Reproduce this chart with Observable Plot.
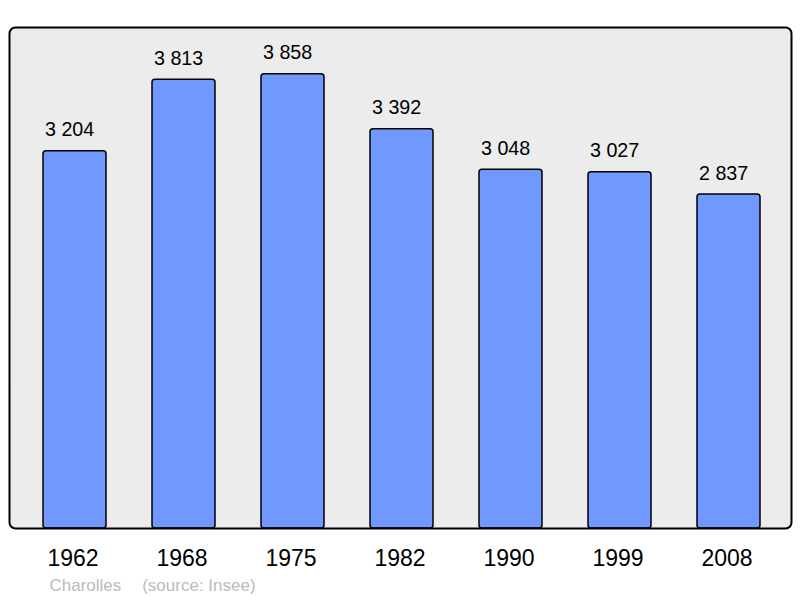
<!DOCTYPE html>
<html>
<head>
<meta charset="utf-8">
<script src="https://cdn.jsdelivr.net/npm/d3@7"></script>
<script src="https://cdn.jsdelivr.net/npm/@observablehq/plot@0.6"></script>
<style>
  html, body { margin: 0; padding: 0; background: #ffffff; }
  svg { display: block; }
</style>
</head>
<body>
<div id="chart"></div>
<script>
const years = ["1962", "1968", "1975", "1982", "1990", "1999", "2008"];
const population = [3204, 3813, 3858, 3392, 3048, 3027, 2837];
const place = "Charolles";
const source = "(source: Insee)";

const data = years.map((y, i) => ({year: y, pop: population[i]}));
const fmt = v => d3.format(",")(v).replace(/,/g, " ");

const chart = Plot.plot({
  width: 800,
  height: 598,
  marginLeft: 9,
  marginRight: 9,
  marginTop: 27,
  marginBottom: 70,
  style: {fontFamily: "'Liberation Sans', Arial, sans-serif", background: "#ffffff"},
  x: {domain: years, range: [41.5, 761.5], paddingInner: 0.424, paddingOuter: 0},
  y: {domain: [0, 4256], axis: null},
  marks: [
    Plot.frame({fill: "#ececec", stroke: null, rx: 6}),
    Plot.barY(data, {x: "year", y: "pop", fill: "#7098ff", stroke: "#000000", strokeWidth: 1.5, rx: 3}),
    Plot.frame({stroke: "#000000", strokeWidth: 2, rx: 6, strokeOpacity: 1}),
    Plot.text(data, {x: "year", y: "pop", text: d => fmt(d.pop), textAnchor: "start", lineAnchor: "bottom", dx: -30, dy: -15, fontSize: 19.7, fill: "#000000"}),
    Plot.axisX({tickSize: 0, tickPadding: 21, fontSize: 23, dx: -2, color: "#000000", label: null}),
    Plot.text([place], {frameAnchor: "bottom-left", textAnchor: "start", lineAnchor: "bottom", dx: 40, dy: 62, fontSize: 17, fill: "#bbbbbb"}),
    Plot.text([source], {frameAnchor: "bottom-left", textAnchor: "start", lineAnchor: "bottom", dx: 132.7, dy: 62, fontSize: 17, fill: "#bbbbbb"})
  ]
});
document.getElementById("chart").appendChild(chart);
</script>
</body>
</html>
